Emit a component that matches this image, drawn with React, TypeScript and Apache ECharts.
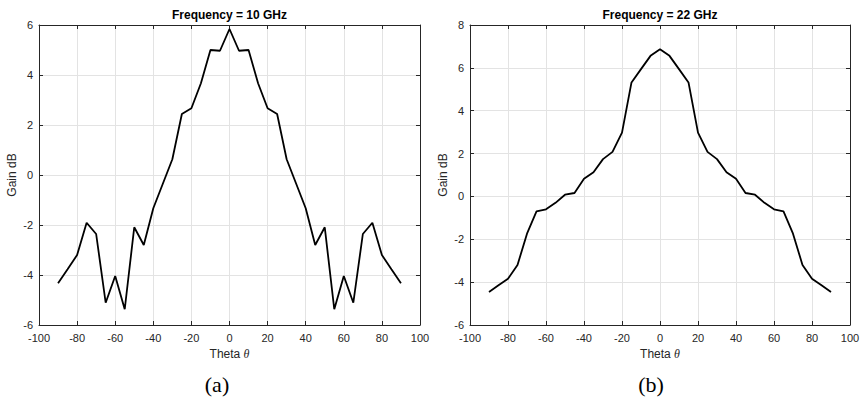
import { useEffect, useRef } from "react";
import * as echarts from "echarts";

const theta = [-90, -85, -80, -75, -70, -65, -60, -55, -50, -45, -40, -35, -30, -25, -20, -15, -10, -5, 0, 5, 10, 15, 20, 25, 30, 35, 40, 45, 50, 55, 60, 65, 70, 75, 80, 85, 90];
const gain10 = [-4.33, -3.77, -3.2, -1.91, -2.36, -5.11, -4.04, -5.37, -2.09, -2.8, -1.33, -0.35, 0.63, 2.44, 2.67, 3.67, 5.0, 4.97, 5.84, 4.97, 5.0, 3.67, 2.67, 2.44, 0.63, -0.35, -1.33, -2.8, -2.09, -5.37, -4.04, -5.11, -2.36, -1.91, -3.2, -3.77, -4.33];
const gain22 = [-4.46, -4.15, -3.84, -3.2, -1.74, -0.7, -0.6, -0.3, 0.08, 0.16, 0.82, 1.13, 1.74, 2.08, 2.98, 5.32, 5.94, 6.56, 6.87, 6.56, 5.94, 5.32, 2.98, 2.08, 1.74, 1.13, 0.82, 0.16, 0.08, -0.3, -0.6, -0.7, -1.74, -3.2, -3.84, -4.15, -4.46];
const titles = ["Frequency = 10 GHz", "Frequency = 22 GHz"];
const captions = ["(a)", "(b)"];
const yRanges = [
  [-6, 6],
  [-6, 8],
];

const FONT = "Liberation Sans";
const TXT = "#262626";

export default function App() {
  const ref = useRef<HTMLDivElement>(null);
  useEffect(() => {
    const chart = echarts.init(ref.current!, null, { renderer: "svg" });
    const grids = [
      { left: 39, top: 25, width: 381, height: 300 },
      { left: 470, top: 25, width: 380, height: 300 },
    ];
    const xAxis: any[] = [];
    const yAxis: any[] = [];
    const series: any[] = [];
    const graphic: any[] = [];
    const datasets = [gain10, gain22];
    grids.forEach((g, i) => {
      const cx = g.left + g.width / 2;
      xAxis.push({
        type: "value",
        gridIndex: i,
        min: -100,
        max: 100,
        interval: 20,
        position: "bottom",
        name: "{a|Theta }{b|θ}",
        nameLocation: "middle",
        nameGap: 22,
        nameTextStyle: {
          rich: {
            a: { fontFamily: FONT, fontSize: 12, color: TXT },
            b: { fontFamily: "Liberation Serif", fontSize: 12, fontStyle: "italic", color: TXT },
          },
        },
        axisLine: { show: true, onZero: false, lineStyle: { color: TXT, width: 1 } },
        axisTick: { show: true, inside: true, length: 4, lineStyle: { color: TXT } },
        axisLabel: { color: TXT, fontFamily: FONT, fontSize: 11, margin: 7 },
        splitLine: { show: true, lineStyle: { color: "#e3e3e3", width: 1 } },
      });
      xAxis.push({
        type: "value",
        gridIndex: i,
        min: -100,
        max: 100,
        interval: 20,
        position: "top",
        axisLine: { show: true, onZero: false, lineStyle: { color: TXT, width: 1 } },
        axisTick: { show: true, inside: true, length: 4, lineStyle: { color: TXT } },
        axisLabel: { show: false },
        splitLine: { show: false },
      });
      yAxis.push({
        type: "value",
        gridIndex: i,
        min: yRanges[i][0],
        max: yRanges[i][1],
        interval: 2,
        position: "left",
        name: "Gain dB",
        nameLocation: "middle",
        nameGap: 21,
        nameTextStyle: { fontFamily: FONT, fontSize: 12, color: TXT },
        axisLine: { show: true, onZero: false, lineStyle: { color: TXT, width: 1 } },
        axisTick: { show: true, inside: true, length: 4, lineStyle: { color: TXT } },
        axisLabel: { color: TXT, fontFamily: FONT, fontSize: 11, margin: 6 },
        splitLine: { show: true, lineStyle: { color: "#e3e3e3", width: 1 } },
      });
      yAxis.push({
        type: "value",
        gridIndex: i,
        min: yRanges[i][0],
        max: yRanges[i][1],
        interval: 2,
        position: "right",
        axisLine: { show: true, onZero: false, lineStyle: { color: TXT, width: 1 } },
        axisTick: { show: true, inside: true, length: 4, lineStyle: { color: TXT } },
        axisLabel: { show: false },
        splitLine: { show: false },
      });
      series.push({
        type: "line",
        xAxisIndex: i * 2,
        yAxisIndex: i * 2,
        data: theta.map((t, k) => [t, datasets[i][k]]),
        symbol: "none",
        lineStyle: { color: "#000", width: 1.8 },
      });
      graphic.push({
        type: "text",
        x: cx,
        y: 15,
        style: {
          text: titles[i],
          fontFamily: FONT,
          fontSize: 12,
          fontWeight: "bold",
          fill: "#000",
          align: "center",
          verticalAlign: "middle",
        },
      });
      graphic.push({
        type: "text",
        x: i === 0 ? 217 : 651,
        y: 384,
        style: {
          text: captions[i],
          fontFamily: "Liberation Serif",
          fontSize: 22,
          fill: "#000",
          align: "center",
          verticalAlign: "middle",
        },
      });
    });
    chart.setOption({
      animation: false,
      backgroundColor: "#fff",
      grid: grids,
      xAxis,
      yAxis,
      series,
      graphic,
    });
    return () => chart.dispose();
  }, []);
  return (
    <div
      ref={ref}
      style={{ position: "absolute", left: 0, top: 0, width: 863, height: 397 }}
    />
  );
}
